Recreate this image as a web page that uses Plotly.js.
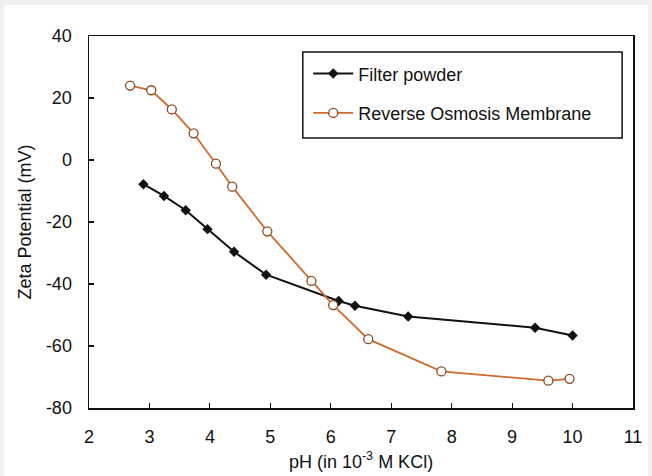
<!DOCTYPE html>
<html>
<head>
<meta charset="utf-8">
<script src="https://cdn.plot.ly/plotly-3.0.1.min.js"></script>
<style>
html,body{margin:0;padding:0;background:#efefef;width:652px;height:476px;overflow:hidden;}
#chart{position:absolute;left:4px;top:5px;width:644px;height:471px;background:#fff;}
</style>
</head>
<body>
<div id="chart"></div>
<script>
const filterPH   = [2.9, 3.24, 3.6, 3.96, 4.4, 4.93, 6.13, 6.4, 7.28, 9.38, 10.0];
const filterZeta = [-7.8, -11.6, -16.2, -22.3, -29.6, -37.0, -45.5, -47.0, -50.5, -54.1, -56.6];
const roPH   = [2.68, 3.03, 3.37, 3.73, 4.1, 4.37, 4.95, 5.68, 6.04, 6.62, 7.83, 9.6, 9.95];
const roZeta = [24.0, 22.5, 16.3, 8.6, -1.2, -8.6, -23.0, -39.0, -46.8, -57.8, -68.2, -71.2, -70.6];
const xTicks = [2, 3, 4, 5, 6, 7, 8, 9, 10, 11];
const yTicks = [-80, -60, -40, -20, 0, 20, 40];

const fam = 'Liberation Sans, Arial, sans-serif';
const font = {family: fam, size: 18, color: '#111'};

const traces = [
  {x: filterPH, y: filterZeta, name: 'Filter powder', mode: 'lines+markers', legendgroup: 'a',
   line: {color: '#111', width: 2},
   marker: {symbol: 'diamond', size: 8, color: '#111'}},
  {x: roPH, y: roZeta, name: 'Reverse Osmosis Membrane', mode: 'lines+markers', legendgroup: 'b',
   line: {color: '#d06a2c', width: 1.8},
   marker: {symbol: 'circle', size: 9, color: '#fff', line: {color: '#8a4a20', width: 1.3}}}
];

const layout = {
  width: 644, height: 471,
  margin: {l: 85, r: 15, t: 31, b: 68},
  paper_bgcolor: '#fff', plot_bgcolor: '#fff',
  font: font,
  showlegend: true,
  shapes: [{type: 'rect', xref: 'paper', yref: 'paper', x0: 0.393, x1: 0.980, y0: 0.726, y1: 0.957,
    line: {color: '#111', width: 1.5}, fillcolor: '#fff', layer: 'above'}],
  legend: {x: 0.403, y: 0.948, xanchor: 'left', yanchor: 'top',
    bgcolor: 'rgba(0,0,0,0)', borderwidth: 0,
    font: {family: fam, size: 18, color: '#111'},
    traceorder: 'grouped', tracegroupgap: 13, itemwidth: 40},
  xaxis: {range: [2, 11], tickvals: xTicks, ticktext: xTicks.map(String),
    showgrid: false, zeroline: false, showline: true, linecolor: '#111', linewidth: 1.5,
    mirror: true, ticks: 'inside', ticklen: 5, tickcolor: '#111', tickwidth: 1.2,
    tickfont: font, ticklabelstandoff: 12,
    title: {text: 'pH (in 10<sup>-3</sup> M KCl)', font: font, standoff: 9}},
  yaxis: {range: [-80, 40], tickvals: yTicks, ticktext: yTicks.map(String),
    showgrid: false, zeroline: false, showline: true, linecolor: '#111', linewidth: 1.5,
    mirror: true, ticks: 'inside', ticklen: 5, tickcolor: '#111', tickwidth: 1.2,
    tickfont: font, ticklabelstandoff: 12,
    title: {text: 'Zeta Potential (mV)', font: font, standoff: 9}}
};

Plotly.newPlot('chart', traces, layout, {displayModeBar: false, staticPlot: true});
</script>
</body>
</html>
